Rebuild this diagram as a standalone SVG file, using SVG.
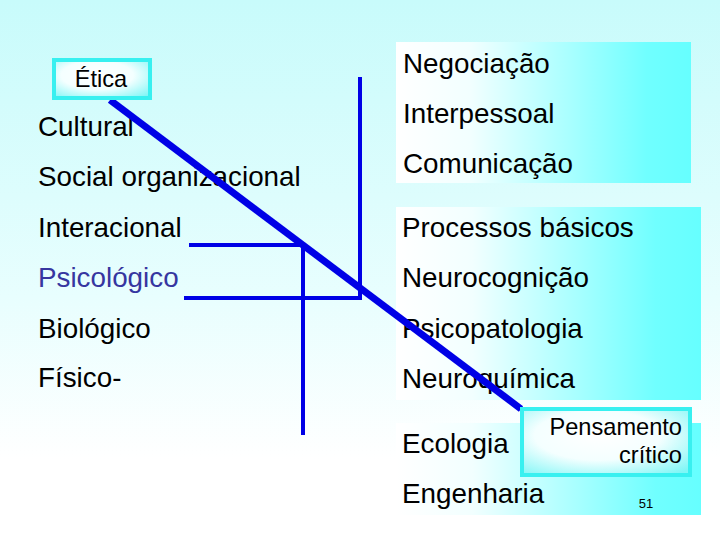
<svg xmlns="http://www.w3.org/2000/svg" width="720" height="540" viewBox="0 0 720 540">
<defs>
<linearGradient id="bg" x1="0" y1="0" x2="0" y2="1">
<stop offset="0" stop-color="#c8fbfb"/>
<stop offset="0.55" stop-color="#e8fefe"/>
<stop offset="0.85" stop-color="#ffffff"/>
<stop offset="1" stop-color="#ffffff"/>
</linearGradient>
<linearGradient id="panel" x1="0" y1="0" x2="1" y2="0">
<stop offset="0" stop-color="#ffffff"/>
<stop offset="0.25" stop-color="#f2ffff"/>
<stop offset="0.85" stop-color="#70ffff"/>
<stop offset="1" stop-color="#66ffff"/>
</linearGradient>
<radialGradient id="tag" cx="0.45" cy="0.4" r="0.75">
<stop offset="0" stop-color="#ffffff"/>
<stop offset="0.5" stop-color="#f4ffff"/>
<stop offset="1" stop-color="#7ff6f6"/>
</radialGradient>
<style>
.t{font-family:"Liberation Sans",Arial,sans-serif;font-size:27.8px;fill:#000}
.p{fill:#3636a0}
.panel{fill:url(#panel)}
.tagbox{fill:url(#tag);stroke:#38f0f0;stroke-width:4}
.tg{font-family:"Liberation Sans",Arial,sans-serif;font-size:23.6px;fill:#000}
.ln{stroke:#0000e6;stroke-width:4;fill:none;stroke-linecap:butt}
</style>
</defs>
<rect width="720" height="540" fill="url(#bg)"/>

<g id="panel-social">
<rect class="panel" x="396" y="42" width="295" height="141"/>
<text class="t" x="403" y="73">Negociação</text>
<text class="t" x="403" y="123">Interpessoal</text>
<text class="t" x="403" y="173">Comunicação</text>
</g>
<g id="panel-bio">
<rect class="panel" x="396" y="207" width="305" height="193"/>
<text class="t" x="402" y="237">Processos básicos</text>
<text class="t" x="402" y="287">Neurocognição</text>
<text class="t" x="402" y="338">Psicopatologia</text>
<text class="t" x="402" y="388">Neuroquímica</text>
</g>
<g id="panel-fis">
<rect class="panel" x="396" y="423" width="305" height="92"/>
<text class="t" x="402" y="453">Ecologia</text>
<text class="t" x="402" y="503">Engenharia</text>
<text x="646" y="508" text-anchor="middle" font-family="Liberation Sans, Arial, sans-serif" font-size="13" fill="#000">51</text>
</g>

<g id="levels">
<text class="t" x="38" y="136">Cultural</text>
<text class="t" x="38" y="186">Social organizacional</text>
<text class="t" x="38" y="237">Interacional</text>
<text class="t p" x="38" y="287">Psicológico</text>
<text class="t" x="38" y="338">Biológico</text>
<text class="t" x="38" y="387">Físico-</text>
</g>

<g id="connectors">
<line class="ln" x1="360" y1="77" x2="360" y2="300"/>
<line class="ln" x1="189" y1="245" x2="305" y2="245"/>
<line class="ln" x1="303" y1="243" x2="303" y2="435"/>
<line class="ln" x1="184" y1="298" x2="362" y2="298"/>
<line x1="110" y1="100" x2="521" y2="409" stroke="#0000e6" stroke-width="7"/>
</g>

<g id="etica">
<rect class="tagbox" x="54" y="60" width="96" height="38"/>
<text class="tg" x="101" y="87" text-anchor="middle" font-size="21">Ética</text>
</g>
<g id="pensamento">
<rect class="tagbox" x="522" y="409" width="168" height="66"/>
<text class="tg" x="682" y="435" text-anchor="end">Pensamento</text>
<text class="tg" x="682" y="463" text-anchor="end">crítico</text>
</g>
</svg>
